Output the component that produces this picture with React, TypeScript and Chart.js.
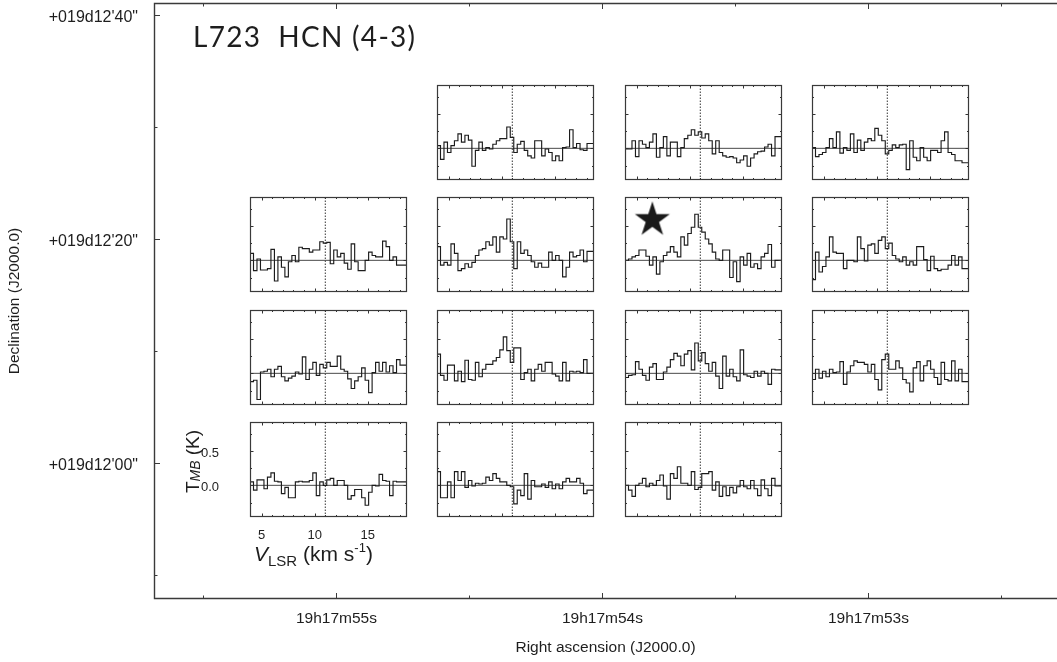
import React, { useEffect, useRef } from "react";
import { Chart, registerables } from "chart.js";

Chart.register(...registerables);

// ---------------- figure / outer sky-coordinate frame ----------------
const FIG_W = 1057;
const FIG_H = 662;

const TITLE_TEXT = "L723  HCN (4-3)";
const RA_TITLE = "Right ascension (J2000.0)";
const DEC_TITLE = "Declination (J2000.0)";

// RA in seconds of 19h17m, Dec in arcsec above +19d12'00"
const raMajorTicks = [55, 54, 53];
const raMajorLabels = ["19h17m55s", "19h17m54s", "19h17m53s"];
const raMinorTicks = [55.5, 54.5, 53.5, 52.5];
const raRange = [52.291, 55.686];

const decMajorTicks = [40, 20, 0];
const decMajorLabels = ["+019d12'40\"", "+019d12'20\"", "+019d12'00\""];
const decMinorTicks = [30, 10, -10];
const decRange = [-12.14, 41.07];

// ---------------- spectra (T_MB in K per channel) ----------------
const channelStart = 3.9; // km/s, left edge of first channel
const channelWidth = 0.329; // km/s
const systemicVelocity = 11.0;
const velocityRange = [3.9, 18.705];
const temperatureRange = [-0.46, 0.92];
const velocityTicks = [5, 6, 7, 8, 9, 10, 11, 12, 13, 14, 15, 16, 17, 18];
const velocityMajorTicks = [5, 10, 15];
const velocityLabels = ["5", "10", "15"];
const temperatureTicks = [-0.25, 0, 0.25, 0.5, 0.75];
const temperatureMajorTicks = [0, 0.5];
const temperatureLabels = ["0.0", "0.5"];

const spectrumR1C2 = [-0.13, 0.04, -0.16, 0.09, -0.06, 0.04, 0.11, 0.21, 0.09, 0.19, 0.12, -0.26, -0.03, 0.09, -0.03, 0.01, -0.01, 0.06, 0.11, 0.14, 0.14, 0.31, 0.16, -0.06, 0.06, 0.1, -0.03, -0.11, -0.14, 0.11, 0.11, -0.11, -0.01, -0.06, -0.18, -0.11, -0.18, 0.01, 0.02, 0.27, 0.01, 0.07, -0.02, -0.03, 0.07];
const spectrumR1C3 = [-0.18, -0.01, -0.01, 0.11, -0.12, 0.11, 0.06, 0.01, 0.09, 0.21, -0.13, 0.01, 0.17, -0.11, 0.09, 0.09, -0.12, 0.01, 0.14, 0.19, 0.27, 0.19, 0.24, 0.15, 0.21, 0.11, -0.08, 0.11, -0.06, -0.11, -0.13, -0.12, -0.14, -0.21, -0.17, -0.11, -0.26, -0.14, -0.08, -0.05, -0.04, 0.02, 0.06, -0.11, 0.17];
const spectrumR1C4 = [-0.17, 0.01, -0.12, -0.09, -0.06, 0.01, 0.14, 0.01, 0.24, -0.07, 0.01, -0.03, 0.21, -0.06, 0.12, -0.03, 0.09, 0.14, 0.11, 0.29, 0.19, 0.11, -0.08, -0.03, 0.05, 0.01, 0.05, 0.06, -0.31, 0.11, -0.13, -0.18, 0.01, -0.13, -0.18, -0.03, -0.03, -0.06, 0.11, 0.24, -0.06, -0.09, -0.18, -0.18, -0.21];
const spectrumR2C1 = [0.0, 0.1, -0.15, 0.02, -0.14, -0.14, -0.12, 0.16, -0.3, 0.05, -0.1, -0.24, -0.02, 0.07, -0.02, 0.19, 0.17, 0.17, 0.12, 0.15, 0.15, 0.27, 0.25, 0.26, -0.05, 0.15, 0.05, 0.1, -0.04, -0.13, 0.24, -0.02, -0.15, -0.15, 0.0, 0.12, 0.07, 0.05, 0.05, 0.28, 0.2, 0.0, 0.05, -0.07, -0.07];
const spectrumR2C2 = [-0.22, 0.2, -0.07, -0.03, -0.07, 0.24, 0.1, -0.15, -0.12, -0.05, -0.1, -0.03, 0.07, 0.15, 0.17, 0.27, 0.22, 0.34, 0.12, 0.34, 0.31, 0.6, 0.27, -0.12, 0.27, 0.1, 0.15, 0.07, -0.02, -0.1, -0.04, -0.1, -0.1, 0.12, 0.0, 0.07, 0.0, -0.24, -0.1, 0.12, 0.05, 0.07, 0.15, -0.02, 0.13];
const spectrumR2C3 = [-0.28, 0.0, 0.02, 0.05, 0.07, 0.15, 0.15, 0.06, -0.07, 0.05, -0.2, -0.02, 0.07, 0.12, 0.2, 0.12, 0.05, 0.34, 0.22, 0.39, 0.48, 0.67, 0.48, 0.41, 0.31, 0.24, 0.12, 0.02, 0.0, 0.15, 0.15, -0.25, -0.02, -0.31, 0.05, -0.07, 0.1, -0.1, -0.05, -0.12, 0.05, 0.1, 0.23, -0.1, 0.0];
const spectrumR2C4 = [0.02, -0.28, 0.12, -0.17, -0.09, 0.05, 0.34, 0.12, 0.1, 0.1, -0.12, 0.0, 0.0, -0.02, 0.34, 0.17, -0.01, 0.22, 0.24, 0.1, 0.29, 0.34, 0.17, 0.25, 0.07, 0.02, -0.02, 0.05, -0.07, -0.02, -0.07, 0.2, 0.2, 0.01, -0.15, 0.06, -0.12, -0.15, -0.13, -0.13, -0.07, 0.07, -0.07, 0.05, -0.12];
const spectrumR3C1 = [0.28, -0.12, -0.1, -0.38, 0.02, 0.03, 0.06, -0.05, 0.06, 0.1, -0.05, -0.11, -0.07, -0.04, 0.02, -0.01, 0.24, -0.09, 0.06, 0.16, -0.03, 0.13, 0.08, 0.16, 0.1, 0.1, 0.25, 0.06, 0.03, -0.08, -0.22, -0.11, -0.05, 0.08, -0.1, -0.28, 0.01, 0.16, 0.03, 0.16, 0.02, 0.11, 0.01, 0.2, 0.12];
const spectrumR3C2 = [-0.22, 0.28, -0.03, -0.1, 0.12, 0.12, -0.11, 0.03, -0.12, 0.19, -0.09, -0.1, 0.16, -0.05, 0.06, 0.13, 0.13, 0.18, 0.23, 0.34, 0.53, 0.33, 0.16, 0.37, 0.37, -0.09, 0.01, 0.06, -0.11, 0.06, 0.13, 0.03, 0.16, 0.16, -0.01, -0.04, -0.11, 0.16, -0.11, 0.03, 0.02, 0.03, 0.01, 0.2, 0.0];
const spectrumR3C3 = [-0.15, -0.06, -0.03, -0.02, 0.17, 0.06, -0.03, -0.1, 0.09, 0.14, -0.09, -0.09, 0.02, 0.09, 0.2, 0.29, 0.25, 0.11, 0.28, 0.33, 0.05, 0.44, 0.18, 0.3, 0.14, 0.03, 0.16, -0.04, -0.22, 0.25, -0.04, 0.06, -0.05, -0.11, 0.34, -0.02, -0.04, -0.06, 0.03, -0.04, 0.03, 0.0, -0.16, 0.06, 0.05];
const spectrumR3C4 = [0.11, -0.09, 0.06, -0.07, 0.03, -0.05, 0.06, 0.01, 0.02, 0.17, -0.16, 0.02, 0.11, 0.18, 0.16, 0.16, 0.13, 0.02, 0.13, -0.09, -0.24, 0.2, 0.28, 0.06, 0.06, 0.18, 0.08, -0.09, -0.14, -0.27, 0.08, 0.17, -0.11, 0.11, 0.18, 0.06, -0.06, -0.16, 0.16, -0.09, -0.11, 0.18, -0.11, 0.06, -0.12];
const spectrumR4C1 = [-0.01, 0.05, -0.07, 0.08, 0.08, -0.05, 0.12, 0.18, 0.06, 0.05, -0.12, -0.03, -0.18, -0.18, 0.05, 0.06, 0.05, 0.05, 0.07, 0.18, -0.15, 0.05, 0.0, 0.08, 0.1, 0.0, 0.07, 0.07, 0.0, -0.2, -0.15, -0.06, -0.06, -0.18, -0.29, -0.1, 0.0, -0.01, 0.16, 0.07, 0.06, -0.15, 0.06, 0.05, 0.05];
const spectrumR4C2 = [-0.32, 0.2, -0.18, -0.18, 0.05, -0.18, 0.2, 0.07, 0.2, -0.03, 0.07, -0.01, 0.03, 0.02, 0.03, 0.12, 0.07, 0.17, 0.1, 0.05, 0.05, 0.0, -0.02, -0.27, -0.07, -0.15, 0.17, -0.2, 0.07, -0.02, -0.02, 0.02, -0.03, 0.05, -0.05, 0.02, -0.05, 0.05, 0.1, 0.05, 0.05, 0.1, 0.03, -0.12, -0.07];
const spectrumR4C3 = [0.03, 0.0, -0.07, -0.16, 0.0, 0.03, 0.1, -0.02, 0.03, 0.0, 0.07, 0.15, -0.01, -0.2, 0.17, 0.1, 0.27, 0.03, 0.03, 0.0, 0.2, -0.06, -0.03, 0.17, 0.17, 0.2, -0.07, 0.05, -0.16, -0.02, -0.15, -0.03, -0.11, -0.02, 0.07, -0.02, -0.05, 0.07, -0.05, -0.15, 0.08, -0.05, -0.15, 0.1, -0.01];

// protostar marker (velocity, T) in the central panel
const starPosition = [6.48, 0.595];

// ---------------- panel layout (pixels) ----------------
const COL_LEFT = [250, 437, 625, 812];
const ROW_TOP = [85, 197, 310, 422];
const BOX_W = 157;
const BOX_H = 95;
const PAD = 3;
const LABEL_LEFT = 80;
const LABEL_BOTTOM = 70;

const PANELS = [
  { row: 0, col: 1, data: spectrumR1C2 },
  { row: 0, col: 2, data: spectrumR1C3 },
  { row: 0, col: 3, data: spectrumR1C4 },
  { row: 1, col: 0, data: spectrumR2C1 },
  { row: 1, col: 1, data: spectrumR2C2 },
  { row: 1, col: 2, data: spectrumR2C3, star: true },
  { row: 1, col: 3, data: spectrumR2C4 },
  { row: 2, col: 0, data: spectrumR3C1 },
  { row: 2, col: 1, data: spectrumR3C2 },
  { row: 2, col: 2, data: spectrumR3C3 },
  { row: 2, col: 3, data: spectrumR3C4 },
  { row: 3, col: 0, data: spectrumR4C1, labelled: true },
  { row: 3, col: 1, data: spectrumR4C2 },
  { row: 3, col: 2, data: spectrumR4C3 },
];

const FONT_FAMILY = '"Liberation Sans", Arial, sans-serif';
const INK = "#1e1e1e";

function panelGeometry(p: any) {
  const left = p.labelled ? LABEL_LEFT : PAD;
  const bottom = p.labelled ? LABEL_BOTTOM : PAD;
  return {
    x: COL_LEFT[p.col] - left,
    y: ROW_TOP[p.row] - PAD,
    w: left + BOX_W + PAD,
    h: PAD + BOX_H + bottom,
  };
}

function drawRich(ctx: CanvasRenderingContext2D, parts: any[], x: number, y: number, measureOnly = false) {
  let cx = x;
  for (const p of parts) {
    ctx.font = p.font;
    if (!measureOnly) ctx.fillText(p.text, cx, y + p.dy);
    cx += ctx.measureText(p.text).width;
  }
  return cx - x;
}

function makeStar() {
  const c = document.createElement("canvas");
  c.width = 40;
  c.height = 40;
  const g = c.getContext("2d")!;
  const R = 18.4;
  const r = R * 0.382;
  g.fillStyle = "#1a1a1a";
  g.beginPath();
  for (let i = 0; i < 10; i++) {
    const ang = -Math.PI / 2 + (i * Math.PI) / 5;
    const rad = i % 2 === 0 ? R : r;
    const px = 20 + rad * Math.cos(ang);
    const py = 20.5 + rad * Math.sin(ang);
    if (i === 0) g.moveTo(px, py);
    else g.lineTo(px, py);
  }
  g.closePath();
  g.fill();
  return c;
}

const outerFrame = {
  id: "outerFrame",
  afterDraw(chart: any) {
    const { ctx, chartArea: a, scales } = chart;
    const xs = scales.x;
    const ys = scales.y;
    ctx.save();
    ctx.strokeStyle = "#3a3a3a";
    ctx.lineWidth = 1.4;
    ctx.beginPath();
    ctx.moveTo(a.right, a.top + 0.5);
    ctx.lineTo(a.left + 0.5, a.top + 0.5);
    ctx.lineTo(a.left + 0.5, a.bottom - 0.5);
    ctx.lineTo(a.right, a.bottom - 0.5);
    ctx.stroke();
    ctx.lineWidth = 1;
    ctx.beginPath();
    const tickX = (vals: number[], len: number) =>
      vals.forEach((v) => {
        const px = Math.round(xs.getPixelForValue(v)) + 0.5;
        ctx.moveTo(px, a.top);
        ctx.lineTo(px, a.top + len);
        ctx.moveTo(px, a.bottom);
        ctx.lineTo(px, a.bottom - len);
      });
    const tickY = (vals: number[], len: number) =>
      vals.forEach((v) => {
        const py = Math.round(ys.getPixelForValue(v)) + 0.5;
        ctx.moveTo(a.left, py);
        ctx.lineTo(a.left + len, py);
      });
    tickX(raMajorTicks, 6);
    tickX(raMinorTicks, 3.5);
    tickY(decMajorTicks, 6);
    tickY(decMinorTicks, 3.5);
    ctx.stroke();
    ctx.fillStyle = INK;
    ctx.font = '28px Lato, "Open Sans", sans-serif';
    (ctx as any).letterSpacing = "1.3px";
    ctx.textAlign = "left";
    ctx.textBaseline = "alphabetic";
    ctx.fillText(TITLE_TEXT, a.left + 39, a.top + 44);
    (ctx as any).letterSpacing = "0px";
    ctx.restore();
  },
};

function makePanelPlugin(labelled: boolean) {
  return {
    id: "panelFrame",
    afterDatasetsDraw(chart: any) {
      const { ctx, chartArea: a, scales } = chart;
      const x = scales.x;
      const y = scales.y;
      ctx.save();
      ctx.strokeStyle = "#333";
      ctx.lineWidth = 1;
      ctx.beginPath();
      velocityTicks.forEach((v) => {
        const px = Math.round(x.getPixelForValue(v)) + 0.5;
        const len = velocityMajorTicks.includes(v) ? 3.5 : 2;
        ctx.moveTo(px, a.top);
        ctx.lineTo(px, a.top + len);
        ctx.moveTo(px, a.bottom);
        ctx.lineTo(px, a.bottom - len);
      });
      temperatureTicks.forEach((t) => {
        const py = Math.round(y.getPixelForValue(t)) + 0.5;
        const len = temperatureMajorTicks.includes(t) ? 3.5 : 2;
        ctx.moveTo(a.left, py);
        ctx.lineTo(a.left + len, py);
        ctx.moveTo(a.right, py);
        ctx.lineTo(a.right - len, py);
      });
      ctx.stroke();
      ctx.strokeStyle = "#3a3a3a";
      ctx.lineWidth = 1.2;
      ctx.strokeRect(a.left + 0.5, a.top + 0.5, a.right - a.left - 1, a.bottom - a.top - 1);

      if (labelled) {
        ctx.fillStyle = INK;
        ctx.textAlign = "left";
        ctx.textBaseline = "alphabetic";
        // T_MB (K), rotated
        const tParts = [
          { text: "T", font: `19px ${FONT_FAMILY}`, dy: 0 },
          { text: "MB", font: `italic 14px ${FONT_FAMILY}`, dy: 1.5 },
          { text: " (K)", font: `19px ${FONT_FAMILY}`, dy: 0 },
        ];
        const tw = drawRich(ctx, tParts, 0, 0, true);
        ctx.save();
        ctx.translate(a.left - 51.5, a.top + 39.5);
        ctx.rotate(-Math.PI / 2);
        drawRich(ctx, tParts, -tw / 2, 0);
        ctx.restore();
        // V_LSR (km s^-1)
        const vParts = [
          { text: "V", font: `italic 21px ${FONT_FAMILY}`, dy: 0 },
          { text: "LSR", font: `15px ${FONT_FAMILY}`, dy: 5 },
          { text: " (km s", font: `21px ${FONT_FAMILY}`, dy: 0 },
          { text: "-1", font: `13px ${FONT_FAMILY}`, dy: -9 },
          { text: ")", font: `21px ${FONT_FAMILY}`, dy: 0 },
        ];
        drawRich(ctx, vParts, a.left + 4, a.bottom + 43.5);
      }
      ctx.restore();
    },
  };
}

function panelConfig(p: any, star: HTMLCanvasElement) {
  const hist = p.data.map((t: number, i: number) => ({ x: channelStart + i * channelWidth, y: t }));
  hist.push({ x: channelStart + p.data.length * channelWidth, y: p.data[p.data.length - 1] });
  const datasets: any[] = [
    {
      data: hist,
      stepped: "after",
      borderColor: "#1c1c1c",
      borderWidth: 1.15,
      pointRadius: 0,
      fill: false,
    },
    {
      data: [
        { x: velocityRange[0], y: 0 },
        { x: velocityRange[1], y: 0 },
      ],
      borderColor: "#4a4a4a",
      borderWidth: 1,
      pointRadius: 0,
      fill: false,
    },
    {
      data: [
        { x: systemicVelocity, y: temperatureRange[0] },
        { x: systemicVelocity, y: temperatureRange[1] },
      ],
      borderColor: "#333",
      borderWidth: 1,
      borderDash: [1.5, 1.5],
      pointRadius: 0,
      fill: false,
    },
  ];
  if (p.star) {
    datasets.unshift({
      data: [{ x: starPosition[0], y: starPosition[1] }],
      showLine: false,
      pointStyle: star,
      pointRadius: 10,
      borderWidth: 0,
    });
  }
  const labelled = !!p.labelled;
  const xScale: any = {
    type: "linear",
    min: velocityRange[0],
    max: velocityRange[1],
    display: labelled,
  };
  const yScale: any = {
    type: "linear",
    min: temperatureRange[0],
    max: temperatureRange[1],
    display: labelled,
  };
  if (labelled) {
    Object.assign(xScale, {
      afterBuildTicks: (s: any) => {
        s.ticks = velocityMajorTicks.map((v) => ({ value: v }));
      },
      afterFit: (s: any) => {
        s.height = LABEL_BOTTOM;
        s.paddingLeft = 0;
        s.paddingRight = 0;
      },
      grid: { display: false, drawTicks: false },
      border: { display: false },
      ticks: {
        callback: (v: number) => velocityLabels[velocityMajorTicks.indexOf(v)],
        padding: 11,
        color: INK,
        font: { family: FONT_FAMILY, size: 13 },
        maxRotation: 0,
        autoSkip: false,
      },
    });
    Object.assign(yScale, {
      afterBuildTicks: (s: any) => {
        s.ticks = temperatureMajorTicks.map((v) => ({ value: v }));
      },
      afterFit: (s: any) => {
        s.width = LABEL_LEFT;
        s.paddingTop = 0;
        s.paddingBottom = 0;
      },
      grid: { display: false, drawTicks: false },
      border: { display: false },
      ticks: {
        callback: (v: number) => temperatureLabels[temperatureMajorTicks.indexOf(v)],
        padding: 31,
        labelOffset: 2.5,
        color: INK,
        font: { family: FONT_FAMILY, size: 13 },
        autoSkip: false,
      },
    });
  }
  return {
    type: "line",
    data: { datasets },
    options: {
      responsive: false,
      animation: false,
      events: [],
      layout: {
        autoPadding: false,
        padding: labelled ? { left: 0, top: PAD, right: PAD, bottom: 0 } : PAD,
      },
      plugins: { legend: { display: false }, tooltip: { enabled: false } },
      scales: { x: xScale, y: yScale },
    },
    plugins: [makePanelPlugin(labelled)],
  };
}

function outerConfig() {
  return {
    type: "scatter",
    data: { datasets: [] },
    options: {
      responsive: false,
      animation: false,
      events: [],
      layout: { autoPadding: false, padding: { top: 3, left: 0, right: 0, bottom: 0 } },
      plugins: { legend: { display: false }, tooltip: { enabled: false } },
      scales: {
        x: {
          type: "linear",
          reverse: true,
          min: raRange[0],
          max: raRange[1],
          position: "bottom",
          afterBuildTicks: (s: any) => {
            s.ticks = raMajorTicks.map((v) => ({ value: v }));
          },
          afterFit: (s: any) => {
            s.height = 63;
            s.paddingLeft = 0;
            s.paddingRight = 0;
          },
          grid: { display: false, drawTicks: false },
          border: { display: false },
          ticks: {
            callback: (v: number) => raMajorLabels[raMajorTicks.indexOf(v)],
            padding: 10,
            color: INK,
            font: { family: FONT_FAMILY, size: 15.5 },
            maxRotation: 0,
            autoSkip: false,
          },
          title: {
            display: true,
            text: RA_TITLE,
            color: INK,
            font: { family: FONT_FAMILY, size: 15.5 },
            padding: { top: 0, bottom: 5 },
          },
        },
        y: {
          type: "linear",
          min: decRange[0],
          max: decRange[1],
          position: "left",
          afterBuildTicks: (s: any) => {
            s.ticks = decMajorTicks.map((v) => ({ value: v }));
          },
          afterFit: (s: any) => {
            s.width = 154;
            s.paddingTop = 0;
            s.paddingBottom = 0;
          },
          grid: { display: false, drawTicks: false },
          border: { display: false },
          ticks: {
            callback: (v: number) => decMajorLabels[decMajorTicks.indexOf(v)],
            padding: 16,
            labelOffset: 2.5,
            color: INK,
            font: { family: FONT_FAMILY, size: 16 },
            autoSkip: false,
          },
          title: {
            display: true,
            text: DEC_TITLE,
            color: INK,
            font: { family: FONT_FAMILY, size: 15.5 },
            padding: { top: 5, bottom: 0 },
          },
        },
      },
    },
    plugins: [outerFrame],
  };
}

export default function App() {
  const outerRef = useRef<HTMLCanvasElement | null>(null);
  const panelRefs = useRef<(HTMLCanvasElement | null)[]>([]);

  useEffect(() => {
    const charts: Chart[] = [];
    const star = makeStar();
    charts.push(new Chart(outerRef.current as HTMLCanvasElement, outerConfig() as any));
    PANELS.forEach((p, i) => {
      const c = panelRefs.current[i];
      if (c) charts.push(new Chart(c, panelConfig(p, star) as any));
    });
    return () => charts.forEach((c) => c.destroy());
  }, []);

  return (
    <div style={{ position: "absolute", left: 0, top: 0, width: FIG_W, height: FIG_H, background: "#fff" }}>
      <canvas
        ref={outerRef}
        width={FIG_W}
        height={FIG_H}
        style={{ position: "absolute", left: 0, top: 0, width: FIG_W, height: FIG_H }}
      />
      {PANELS.map((p, i) => {
        const g = panelGeometry(p);
        return (
          <canvas
            key={i}
            ref={(el) => {
              panelRefs.current[i] = el;
            }}
            width={g.w}
            height={g.h}
            style={{ position: "absolute", left: g.x, top: g.y, width: g.w, height: g.h }}
          />
        );
      })}
    </div>
  );
}
